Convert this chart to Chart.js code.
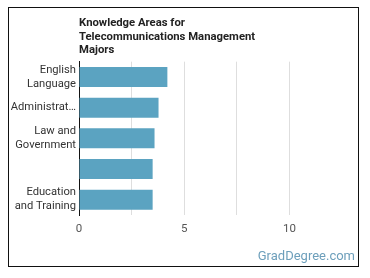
<!DOCTYPE html>
<html>
<head>
<meta charset="utf-8">
<script src="https://cdn.jsdelivr.net/npm/chart.js@4"></script>
<style>
    body { margin: 0; background: #fff; }
    #wrap { position: relative; width: 370px; height: 278px; }
    #frame { position: absolute; left: 8px; top: 7px; width: 351px; height: 260px; border: 1px solid #111; box-sizing: border-box; pointer-events: none; }
</style>
</head>
<body>
<div id="wrap">
    <canvas id="chart" width="370" height="278"></canvas>
    <div id="frame"></div>
</div>
<script>
// data
var titleLines = ['Knowledge Areas for', 'Telecommunications Management', 'Majors'];
var areaLabels = [['English', 'Language'], 'Administrat\u2026', ['Law and', 'Government'], '', ['Education', 'and Training']];
var areaScores = [4.2, 3.78, 3.59, 3.5, 3.5];
var axisMax = 12.5;
var axisStep = 2.5;

var BAR_COLOR = '#5ba3c1';

// watermark in the bottom right corner
var watermark = {
    id: 'watermark',
    afterDraw: function(chart) {
        var c = chart.ctx;
        c.save();
        c.font = '13px Roboto';
        c.fillStyle = '#6d9fbb';
        c.textAlign = 'right';
        c.textBaseline = 'alphabetic';
        c.fillText('GradDegree.com', 355, 260);
        c.restore();
    }
};

var ctx = document.getElementById('chart');
var myChart = new Chart(ctx, {
    type: 'bar',
    plugins: [watermark],
    data: {
        labels: areaLabels,
        datasets: [{
            data: areaScores,
            backgroundColor: BAR_COLOR,
            borderWidth: 0,
            barPercentage: 0.65,
            categoryPercentage: 1
        }]
    },
    options: {
        responsive: false,
        animation: false,
        indexAxis: 'y',
        layout: {
            padding: { left: 10, right: 28, top: 17, bottom: 0 }
        },
        plugins: {
            legend: { display: false },
            tooltip: { enabled: false },
            title: {
                display: true,
                text: titleLines,
                align: 'start',
                fullSize: false,
                color: '#222',
                font: { family: 'Roboto', size: 11.3, weight: 'bold', lineHeight: 1.17 },
                padding: { top: 0, bottom: 5 }
            }
        },
        scales: {
            x: {
                min: 0,
                max: axisMax,
                border: { display: false },
                grid: {
                    drawTicks: false,
                    color: function(c) {
                        return c.tick && c.tick.value === axisMax ? 'rgba(0,0,0,0)' : '#dedede';
                    }
                },
                ticks: {
                    stepSize: axisStep,
                    padding: 7,
                    color: '#555',
                    font: { family: 'Roboto', size: 11.5 },
                    callback: function(v) { return v % 5 === 0 && v < axisMax ? v : ''; }
                },
                afterFit: function(scale) { scale.height = 63; }
            },
            y: {
                border: { display: true, color: '#111', width: 1 },
                grid: { display: false, drawTicks: false },
                ticks: {
                    autoSkip: false,
                    padding: 3,
                    color: '#333',
                    font: { family: 'Roboto', size: 11.2, lineHeight: 1.25 }
                },
                afterFit: function(scale) { scale.width = 69; }
            }
        }
    }
});
</script>
</body>
</html>
